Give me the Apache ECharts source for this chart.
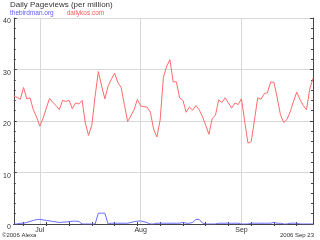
<!DOCTYPE html>
<html><head><meta charset="utf-8">
<script src="https://cdn.jsdelivr.net/npm/echarts@6/dist/echarts.min.js"></script>
<style>html,body{margin:0;padding:0;background:#fff}#c{width:320px;height:240px}</style>
</head><body><div id="c"></div>
<script>
const startDate = '2006-06-23';
const dailykos = [24.8,24.6,24.2,26.5,24.3,24.5,22.2,20.8,19.0,20.5,22.5,24.4,23.6,23.0,22.2,24.0,23.8,24.0,22.4,23.5,23.3,24.0,19.6,17.2,19.2,24.8,29.6,26.8,24.3,26.8,28.1,29.3,27.5,26.5,23.2,19.9,21.0,22.2,24.2,22.9,22.8,22.7,21.7,18.4,16.9,20.2,28.5,30.6,31.9,27.6,27.6,24.5,24.0,21.7,22.7,22.1,23.0,22.2,20.9,19.2,17.4,20.5,21.1,24.1,23.6,24.5,23.5,22.5,23.5,23.2,24.3,19.9,15.7,16.0,20.2,24.5,24.2,25.3,25.5,27.6,27.5,24.5,21.2,19.7,20.3,21.8,23.8,25.6,24.2,23.0,22.2,26.2,28.3];
const thebirdman = [0,0,0.15,0.15,0.3,0.5,0.7,0.85,0.9,0.8,0.7,0.6,0.5,0.4,0.3,0.35,0.4,0.45,0.55,0.55,0.5,0,0,0,0,0,2.1,2.1,2.1,0,0.15,0.15,0.15,0.15,0.15,0.15,0.3,0.45,0.55,0.6,0.45,0.25,0,0,0.15,0.15,0.15,0.15,0.15,0.15,0.15,0.15,0.3,0.15,0.15,0.3,0.9,0.9,0.2,0,0,0,0,0.15,0.15,0.15,0.15,0.15,0.15,0.15,0,0,0,0.15,0.15,0.15,0.15,0.15,0.15,0.15,0.3,0.15,0.15,0,0,0.15,0.15,0.15,0,0,0,0,0];
const monthLabels = {'07-01':'Jul','08-01':'Aug','09-01':'Sep'};
const seriesNames = ['thebirdman.org','dailykos.com'];
const titleText = 'Daily Pageviews (per million)';
const footerLeft = '\u00a92006 Alexa';
const footerRight = '2006 Sep 23';

const categories = [];
const weekdays = [];
{
  const d0 = new Date(startDate + 'T00:00:00Z');
  for (let i = 0; i < dailykos.length; i++) {
    const d = new Date(d0.getTime() + i * 86400000);
    const mm = String(d.getUTCMonth() + 1).padStart(2, '0');
    const dd = String(d.getUTCDate()).padStart(2, '0');
    categories.push(mm + '-' + dd);
    weekdays.push(d.getUTCDay());
  }
}
const isMonthStart = (i) => categories[i] && categories[i].endsWith('-01');
const isMonday = (i) => weekdays[i] === 1;

const FONT = 'Liberation Sans';
const AX = '#444';
const chart = echarts.init(document.getElementById('c'), null, {renderer: 'canvas'});
chart.setOption({
  animation: false,
  backgroundColor: '#fff',
  textStyle: {fontFamily: FONT},
  grid: {left: 12, right: 7, top: 18, bottom: 16},
  title: {
    text: titleText, left: 10, top: 1, padding: 0,
    textStyle: {fontSize: 8, fontWeight: 'normal', color: '#333', fontFamily: FONT}
  },
  legend: {
    left: 5, top: 10, icon: 'none', itemWidth: 0, itemHeight: 0, itemGap: 8, padding: 0,
    data: [
      {name: seriesNames[0], textStyle: {color: '#5c5cff'}},
      {name: seriesNames[1], textStyle: {color: '#ff5c5c'}}
    ],
    textStyle: {fontSize: 6.5, fontFamily: FONT, padding: 0}
  },
  graphic: [
    {type: 'text', left: 2, top: 232, style: {text: footerLeft, fontSize: 6, fill: '#333', fontFamily: FONT}},
    {type: 'text', right: 6, top: 232, style: {text: footerRight, fontSize: 6, fill: '#333', fontFamily: FONT}}
  ],
  xAxis: [
    {
      type: 'category', data: categories, boundaryGap: false, position: 'bottom',
      axisLine: {show: true, lineStyle: {color: AX, width: 1}},
      axisTick: {show: true, inside: true, length: 2, interval: (i) => isMonday(i), lineStyle: {color: AX}},
      axisLabel: {show: true, interval: (i) => isMonthStart(i), formatter: (v) => monthLabels[v] || '',
        fontSize: 7, color: '#333', margin: 3, fontFamily: FONT},
      splitLine: {show: true, interval: (i) => isMonthStart(i), lineStyle: {color: '#d8d8d8', width: 1}}
    },
    {
      type: 'category', data: categories, boundaryGap: false, position: 'top',
      axisLine: {show: true, lineStyle: {color: AX, width: 1}},
      axisTick: {show: true, inside: true, length: 2, interval: (i) => isMonday(i), lineStyle: {color: AX}},
      axisLabel: {show: false}, splitLine: {show: false}
    }
  ],
  yAxis: [
    {
      type: 'value', min: 0, max: 40, interval: 10, position: 'left',
      axisLine: {show: true, lineStyle: {color: AX, width: 1}},
      axisTick: {show: true, inside: true, length: 3, lineStyle: {color: AX}},
      minorTick: {show: true, splitNumber: 5, length: 2, lineStyle: {color: AX}},
      axisLabel: {fontSize: 7, color: '#333', margin: 3, fontFamily: FONT, verticalAlign: 'top'},
      splitLine: {show: true, lineStyle: {color: '#d8d8d8', width: 1}}
    },
    {
      type: 'value', min: 0, max: 40, interval: 10, position: 'right',
      axisLine: {show: true, lineStyle: {color: AX, width: 1}},
      axisTick: {show: true, inside: true, length: 3, lineStyle: {color: AX}},
      minorTick: {show: true, splitNumber: 5, length: 2, lineStyle: {color: AX}},
      axisLabel: {show: false}, splitLine: {show: false}
    }
  ],
  series: [
    {name: seriesNames[0], type: 'line', data: thebirdman, symbol: 'none', smooth: false,
      lineStyle: {color: '#6b6bff', width: 1}, itemStyle: {color: '#6b6bff'}, z: 3},
    {name: seriesNames[1], type: 'line', data: dailykos, symbol: 'none', smooth: false,
      lineStyle: {color: '#ff6b6b', width: 1}, itemStyle: {color: '#ff6b6b'}, z: 3}
  ]
});
</script>
</body></html>
